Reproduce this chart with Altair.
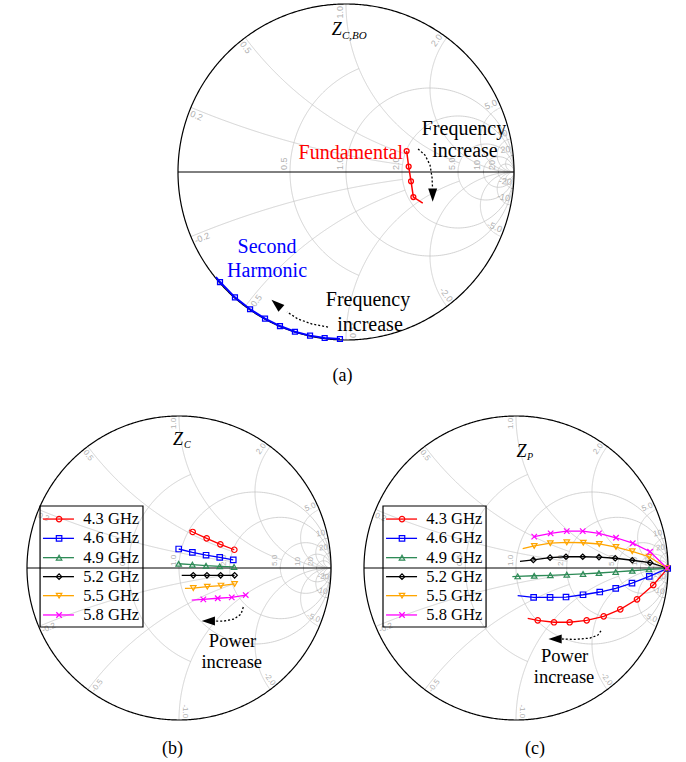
import numpy as np
import pandas as pd
import altair as alt

# ---------------- (a) Z_C,BO versus frequency (reflection coefficient) ----------------
fund_re = [0.361, 0.373, 0.387, 0.401, 0.457]
fund_im = [0.125, 0.032, -0.055, -0.149, -0.186]
fund_lead = 0          # every point but the last carries a marker
fund_tail = 1

harm_re = [-0.774, -0.750, -0.661, -0.571, -0.482, -0.393, -0.304, -0.214, -0.127, -0.036]
harm_im = [-0.625, -0.655, -0.746, -0.817, -0.873, -0.917, -0.951, -0.974, -0.988, -0.994]
harm_lead = 1
harm_tail = 0

# ---------------- (b) Z_C and (c) Z_P versus drive power ----------------
freq_labels = ["4.3 GHz", "4.6 GHz", "4.9 GHz", "5.2 GHz", "5.5 GHz", "5.8 GHz"]

zc_re = [
    [0.068, 0.090, 0.182, 0.272, 0.364],
    [-0.002, 0.088, 0.178, 0.268, 0.357],
    [-0.002, 0.088, 0.178, 0.268, 0.362],
    [0.018, 0.094, 0.184, 0.274, 0.366],
    [0.039, 0.094, 0.186, 0.276, 0.366],
    [0.084, 0.160, 0.255, 0.347, 0.439],
]
zc_im = [
    [0.250, 0.237, 0.195, 0.156, 0.120],
    [0.125, 0.103, 0.084, 0.070, 0.053],
    [0.028, 0.022, 0.015, 0.011, 0.007],
    [-0.048, -0.048, -0.048, -0.048, -0.048],
    [-0.134, -0.132, -0.123, -0.116, -0.105],
    [-0.211, -0.206, -0.199, -0.193, -0.178],
]
zc_lead = [1, 0, 0, 1, 1, 1]

zp_re = [
    [0.077, 0.143, 0.250, 0.353, 0.465, 0.577, 0.686, 0.796, 0.903, 0.998],
    [0.011, 0.116, 0.224, 0.329, 0.441, 0.551, 0.656, 0.763, 0.877, 0.998],
    [-0.024, 0.011, 0.120, 0.226, 0.334, 0.441, 0.546, 0.656, 0.765, 0.875, 0.991],
    [0.026, 0.114, 0.224, 0.329, 0.439, 0.546, 0.653, 0.765, 0.882, 0.993],
    [0.044, 0.120, 0.226, 0.334, 0.443, 0.548, 0.658, 0.765, 0.875, 0.993],
    [0.120, 0.228, 0.334, 0.439, 0.546, 0.658, 0.768, 0.882, 0.993],
]
zp_im = [
    [-0.331, -0.344, -0.357, -0.357, -0.344, -0.318, -0.272, -0.206, -0.112, -0.002],
    [-0.182, -0.193, -0.193, -0.191, -0.176, -0.158, -0.134, -0.099, -0.055, -0.002],
    [-0.057, -0.055, -0.051, -0.048, -0.044, -0.039, -0.033, -0.026, -0.018, -0.009, -0.002],
    [0.044, 0.053, 0.068, 0.074, 0.074, 0.072, 0.064, 0.051, 0.035, 0.000],
    [0.127, 0.145, 0.163, 0.169, 0.166, 0.158, 0.138, 0.110, 0.074, 0.000],
    [0.206, 0.228, 0.243, 0.243, 0.228, 0.199, 0.163, 0.107, 0.000],
]
zp_lead = [1, 1, 1, 1, 1, 0]

# ---------------- styling ----------------
freq_colors = ["#ff0000", "#0000ff", "#2e8b57", "#000000", "#ffa500", "#ff00ff"]
CROSS = "M-1,-1L1,1M-1,1L1,-1"
freq_shapes = ["circle", "square", "triangle-up", "diamond", "triangle-down", CROSS]
ARROW = "M1,0L-1,-0.68L-1,0.68Z"

SERIF = "Liberation Serif, Times New Roman, serif"
SANS = "Liberation Sans, Arial, sans-serif"
GRID_GRAY = "#c6c6c6"
LABEL_GRAY = "#b0b0b0"

# resistance circles (value, |x| limit) and reactance arcs (value, r limit)
R_CIRCLES = [(0.5, 1.0), (1.0, np.inf), (2.0, np.inf), (5.0, np.inf), (10.0, np.inf), (20.0, np.inf)]
X_ARCS = [(0.2, 2.0), (0.5, 2.0), (1.0, 5.0), (2.0, np.inf), (5.0, np.inf), (10.0, np.inf), (20.0, np.inf)]


def fmt(v):
    return f"{v:.1f}" if v < 10 else f"{v:.0f}"


def tmax(lim):
    return np.arctan(lim) if np.isfinite(lim) else np.pi / 2 - 1e-3


def grid_frame(n=360):
    rows = []
    for r, lim in R_CIRCLES:
        t = np.linspace(-tmax(lim), tmax(lim), n)
        z = r + 1j * np.tan(t)
        g = (z - 1) / (z + 1)
        rows += [(f"r{r}", k, c.real, c.imag) for k, c in enumerate(g)]
    for x, lim in X_ARCS:
        t = np.linspace(0, tmax(lim), n)
        for s in (1, -1):
            z = np.tan(t) + 1j * s * x
            g = (z - 1) / (z + 1)
            rows += [(f"x{s * x}", k, c.real, c.imag) for k, c in enumerate(g)]
    return pd.DataFrame(rows, columns=["gid", "k", "u", "v"])


def rim_frame(n=720):
    t = np.linspace(0, 2 * np.pi, n)
    return pd.DataFrame({"k": np.arange(n), "u": np.cos(t), "v": np.sin(t)})


def axis_label_frame(R):
    rows = []
    for r, _ in R_CIRCLES:
        g = (r - 1) / (r + 1)
        rows.append((g - 1.5 / R, 2.0 / R, fmt(r)))
    return pd.DataFrame(rows, columns=["u", "v", "t"])


def rim_label_frames(R):
    outward, inward = [], []
    for x, _ in X_ARCS:
        for s in (1, -1):
            th = s * (np.pi - 2 * np.arctan(x))
            a = -np.degrees(th)
            off = 1.5 / R
            u = 0.988 * np.cos(th) - off * np.sin(th)
            v = 0.988 * np.sin(th) + off * np.cos(th)
            txt = fmt(x) if s > 0 else "-" + fmt(x)
            if -90 <= a <= 90:
                outward.append((u, v, txt, a % 360))
            else:
                inward.append((u, v, txt, (a + 180) % 360))
    cols = ["u", "v", "t", "a"]
    return pd.DataFrame(outward, columns=cols), pd.DataFrame(inward, columns=cols)


def make_panel(cx, cy, R, x0, x1, y0, y1):
    return dict(
        R=R,
        w=x1 - x0,
        h=y1 - y0,
        xs=alt.Scale(domain=[(x0 - cx) / R, (x1 - cx) / R], nice=False, zero=False),
        ys=alt.Scale(domain=[(cy - y1) / R, (cy - y0) / R], nice=False, zero=False),
    )


def XY(p, xf="u", yf="v"):
    return dict(x=alt.X(f"{xf}:Q", scale=p["xs"], axis=None),
                y=alt.Y(f"{yf}:Q", scale=p["ys"], axis=None))


def chart_grid(p, label_size):
    R = p["R"]
    layers = [
        alt.Chart(grid_frame()).mark_line(color=GRID_GRAY, strokeWidth=0.8).encode(
            detail="gid:N", order="k:Q", **XY(p)),
        alt.Chart(pd.DataFrame({"u": [-1.0], "u2": [1.0], "v": [0.0]})).mark_rule(
            color="black", strokeWidth=1.0).encode(x2="u2:Q", **XY(p)),
        alt.Chart(rim_frame()).mark_line(color="black", strokeWidth=1.2).encode(
            order="k:Q", **XY(p)),
        alt.Chart(axis_label_frame(R)).mark_text(
            font=SANS, fontSize=label_size, color=LABEL_GRAY, angle=270,
            align="left", baseline="bottom").encode(text="t:N", **XY(p)),
    ]
    outward, inward = rim_label_frames(R)
    layers.append(alt.Chart(outward).mark_text(
        font=SANS, fontSize=label_size, color=LABEL_GRAY, align="right", baseline="bottom"
    ).encode(text="t:N", angle=alt.Angle("a:Q", scale=None), **XY(p)))
    layers.append(alt.Chart(inward).mark_text(
        font=SANS, fontSize=label_size, color=LABEL_GRAY, align="left", baseline="top"
    ).encode(text="t:N", angle=alt.Angle("a:Q", scale=None), **XY(p)))
    return layers


def text_layer(p, items, **style):
    df = pd.DataFrame(items, columns=["u", "v", "t"])
    return alt.Chart(df).mark_text(**style).encode(text="t:N", **XY(p))


def arrow_layers(p, path_u, path_v, head_u, head_v, head_angle):
    curve = pd.DataFrame({"k": range(len(path_u)), "u": path_u, "v": path_v})
    head = pd.DataFrame({"u": [head_u], "v": [head_v], "a": [head_angle]})
    return [
        alt.Chart(curve).mark_line(color="black", strokeWidth=1.3, strokeDash=[2, 2]).encode(
            order="k:Q", **XY(p)),
        alt.Chart(head).mark_point(shape=ARROW, filled=True, color="black", size=175, opacity=1).encode(
            angle=alt.Angle("a:Q", scale=None), **XY(p)),
    ]


def single_trace(p, re_, im_, lead, tail, color, shape, width):
    df = pd.DataFrame({"k": range(len(re_)), "u": re_, "v": im_})
    mk = df.iloc[lead:len(df) - tail]
    return [
        alt.Chart(df).mark_line(color=color, strokeWidth=width).encode(order="k:Q", **XY(p)),
        alt.Chart(mk).mark_point(shape=shape, color=color, filled=False, size=24,
                                 strokeWidth=1.3, opacity=1).encode(**XY(p)),
    ]


color_scale = alt.Scale(domain=freq_labels, range=freq_colors)
shape_scale = alt.Scale(domain=freq_labels, range=freq_shapes)


def family(p, res, ims, leads):
    rows, marks = [], []
    for name, re_, im_, lead in zip(freq_labels, res, ims, leads):
        for k, (a, b) in enumerate(zip(re_, im_)):
            rows.append((name, k, a, b))
            if k >= lead:
                marks.append((name, k, a, b))
    cols = ["series", "k", "u", "v"]
    lines = pd.DataFrame(rows, columns=cols)
    pts = pd.DataFrame(marks, columns=cols)
    return [
        alt.Chart(lines).mark_line(strokeWidth=1.3).encode(
            color=alt.Color("series:N", scale=color_scale, legend=None),
            detail="series:N", order="k:Q", **XY(p)),
        alt.Chart(pts).mark_point(filled=False, size=30, strokeWidth=1.2, opacity=1).encode(
            color=alt.Color("series:N", scale=color_scale, legend=None),
            shape=alt.Shape("series:N", scale=shape_scale, legend=None), **XY(p)),
    ]


def legend_layers(p, box, line_u, mark_u, text_u, rows_v):
    bdf = pd.DataFrame({"u": [box[0]], "u2": [box[1]], "v": [box[2]], "v2": [box[3]]})
    ldf = pd.DataFrame({"series": freq_labels, "u": line_u[0], "u2": line_u[1],
                        "m": mark_u, "tu": text_u, "v": rows_v})
    col = alt.Color("series:N", scale=color_scale, legend=None)
    return [
        alt.Chart(bdf).mark_rect(fillOpacity=0, stroke="black", strokeWidth=1.2).encode(
            x2="u2:Q", y2="v2:Q", **XY(p)),
        alt.Chart(ldf).mark_rule(strokeWidth=1.3).encode(color=col, x2="u2:Q", **XY(p)),
        alt.Chart(ldf).mark_point(filled=False, size=30, strokeWidth=1.2, opacity=1).encode(
            color=col, shape=alt.Shape("series:N", scale=shape_scale, legend=None), **XY(p, xf="m")),
        alt.Chart(ldf).mark_text(font=SERIF, fontSize=16.5, align="left", baseline="middle",
                                 color="black").encode(text="series:N", **XY(p, xf="tu")),
    ]


# ---------------- panel (a) ----------------
pa = make_panel(346, 172, 168, 0, 686, 0, 390)
layers_a = chart_grid(pa, 9)
layers_a += single_trace(pa, fund_re, fund_im, fund_lead, fund_tail, "#ff0000", "circle", 1.5)
layers_a += single_trace(pa, harm_re, harm_im, harm_lead, harm_tail, "#0000ff", "square", 2.0)
layers_a.append(text_layer(pa, [(0.339, 0.077, "Fundamental")], font=SERIF, fontSize=20,
                           color="#ff0000", align="right", baseline="alphabetic"))
layers_a.append(text_layer(pa, [(-0.470, -0.482, "Second"), (-0.470, -0.625, "Harmonic")],
                           font=SERIF, fontSize=20, color="#0000ff", align="center", baseline="alphabetic"))
layers_a.append(text_layer(pa, [(0.702, 0.220, "Frequency"), (0.708, 0.089, "increase"),
                                (0.131, -0.798, "Frequency"), (0.143, -0.946, "increase")],
                           font=SERIF, fontSize=20, color="black", align="center", baseline="alphabetic"))
layers_a.append(text_layer(pa, [(-0.021, -1.244, "(a)")], font=SERIF, fontSize=18,
                           color="black", align="center", baseline="alphabetic"))
layers_a.append(text_layer(pa, [(-0.085, 0.815, "Z")], font=SERIF, fontSize=18, fontStyle="italic",
                           color="black", align="left", baseline="alphabetic"))
layers_a.append(text_layer(pa, [(-0.024, 0.792, "C,BO")], font=SERIF, fontSize=11, fontStyle="italic",
                           color="black", align="left", baseline="alphabetic"))
layers_a += arrow_layers(pa, [0.429, 0.470, 0.500, 0.512, 0.515], [0.137, 0.101, 0.042, -0.030, -0.095],
                         0.516, -0.138, 90)
layers_a += arrow_layers(pa, [-0.107, -0.202, -0.286, -0.351], [-0.923, -0.905, -0.875, -0.833],
                         -0.414, -0.786, 221)
chart_a = alt.layer(*layers_a).properties(width=pa["w"], height=pa["h"])

# ---------------- panel (b) ----------------
legend_rows_v = [0.322, 0.195, 0.068, -0.057, -0.182, -0.309]

pb = make_panel(179, 568, 152, 0, 343, 390, 762)
layers_b = chart_grid(pb, 8)
layers_b += legend_layers(pb, (-0.914, -0.237, 0.408, -0.388), (-0.895, -0.691), -0.789, -0.630,
                          legend_rows_v)
layers_b += family(pb, zc_re, zc_im, zc_lead)
layers_b.append(text_layer(pb, [(-0.039, 0.809, "Z")], font=SERIF, fontSize=18, fontStyle="italic",
                           color="black", align="left", baseline="alphabetic"))
layers_b.append(text_layer(pb, [(0.033, 0.789, "C")], font=SERIF, fontSize=10, fontStyle="italic",
                           color="black", align="left", baseline="alphabetic"))
layers_b.append(text_layer(pb, [(0.352, -0.520, "Power"), (0.347, -0.658, "increase")],
                           font=SERIF, fontSize=18.5, color="black", align="center", baseline="alphabetic"))
layers_b.append(text_layer(pb, [(-0.043, -1.224, "(b)")], font=SERIF, fontSize=18,
                           color="black", align="center", baseline="alphabetic"))
layers_b += arrow_layers(pb, [0.423, 0.408, 0.362, 0.296, 0.237], [-0.257, -0.303, -0.336, -0.349, -0.349],
                         0.193, -0.349, 180)
chart_b = alt.layer(*layers_b).properties(width=pb["w"], height=pb["h"])

# ---------------- panel (c) ----------------
pc = make_panel(516, 568, 152, 343, 686, 390, 762)
layers_c = chart_grid(pc, 8)
layers_c += legend_layers(pc, (-0.875, -0.197, 0.408, -0.388), (-0.855, -0.651), -0.750, -0.590,
                          legend_rows_v)
layers_c += family(pc, zp_re, zp_im, zp_lead)
layers_c.append(text_layer(pc, [(0.004, 0.732, "Z")], font=SERIF, fontSize=18, fontStyle="italic",
                           color="black", align="left", baseline="alphabetic"))
layers_c.append(text_layer(pc, [(0.072, 0.711, "P")], font=SERIF, fontSize=10, fontStyle="italic",
                           color="black", align="left", baseline="alphabetic"))
layers_c.append(text_layer(pc, [(0.320, -0.616, "Power"), (0.316, -0.757, "increase")],
                           font=SERIF, fontSize=18.5, color="black", align="center", baseline="alphabetic"))
layers_c.append(text_layer(pc, [(0.125, -1.224, "(c)")], font=SERIF, fontSize=18,
                           color="black", align="center", baseline="alphabetic"))
layers_c += arrow_layers(pc, [0.559, 0.539, 0.487, 0.388, 0.303], [-0.413, -0.441, -0.461, -0.470, -0.467],
                         0.257, -0.467, 180)
chart_c = alt.layer(*layers_c).properties(width=pc["w"], height=pc["h"])

chart = alt.vconcat(
    chart_a,
    alt.hconcat(chart_b, chart_c, spacing=0),
    spacing=0,
).configure_view(stroke=None).properties(padding=0, background="white")

chart.save("out.html", embed_options={"renderer": "svg", "actions": False})
